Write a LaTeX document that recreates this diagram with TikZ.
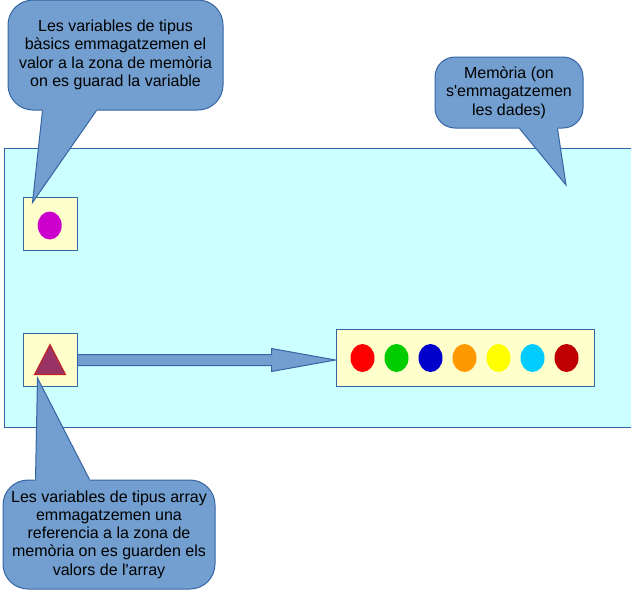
\documentclass[tikz,border=0pt]{standalone}
\usepackage{fontspec}
\setmainfont{Liberation Sans}
\usetikzlibrary{positioning,calc,shapes.geometric}
\definecolor{noteblue}{HTML}{729FCF}
\definecolor{edgeblue}{HTML}{3465A4}
\definecolor{memcyan}{HTML}{CCFFFF}
\definecolor{boxyellow}{HTML}{FFFFCC}
\tikzset{note/.style={fill=noteblue,draw=edgeblue,line width=1pt,rounded corners=25pt,align=center,inner sep=0pt,font=\fontsize{16}{18.3}\selectfont},
         varbox/.style={draw=edgeblue,fill=boxyellow,line width=1pt,minimum width=54pt,minimum height=53pt,inner sep=0pt},
         ball/.style={ellipse,minimum width=24pt,minimum height=28pt,inner sep=0pt},
         tailfill/.style={fill=noteblue},
         tailedge/.style={draw=edgeblue,line width=1pt,line join=miter},
         fatarrow/.style={fill=noteblue,draw=edgeblue,line width=1pt}
}

\begin{document}
\begin{tikzpicture}[x=1pt,y=-1pt]
\useasboundingbox (0,0) rectangle (631,590);

% memory zone
\node[draw=edgeblue,fill=memcyan,line width=1pt,minimum width=632pt,minimum height=279pt,anchor=north west,inner sep=0pt] (mem) at (4,148) {};

% variables
\node[varbox] (basicvar) at (50,223.5) {};
\node[ball,fill={rgb,255:red,204;green,0;blue,204}] (value) at (49.7,225.5) {};
\node[varbox] (arrayvar) at (50,360) {};
\filldraw[fill={rgb,255:red,153;green,51;blue,102},draw={rgb,255:red,201;green,33;blue,30},line width=1pt] ($(arrayvar)+(-15.5,14.5)$) -- ($(arrayvar)+(15.5,14.5)$) -- ($(arrayvar)+(0,-15.5)$) -- cycle;

% array in memory
\node[draw=edgeblue,fill=boxyellow,line width=1pt,minimum width=258pt,minimum height=57pt,inner sep=0pt] (arraymem) at (465,357.5) {};
\foreach \c [count=\i] in {FF0000,00CC00,0000CC,FF9900,FFFF00,00CCFF,C00000}{
  \definecolor{ballcol}{HTML}{\c}
  \node[ball,fill=ballcol] (elem\i) at ($(arraymem.west)+(-7+34*\i,0.5)$) {};
}

% reference arrow
\coordinate (tip) at (arraymem.west |- arrayvar.east);
\filldraw[fatarrow] ($(arrayvar.east)+(0,-5.5)$) -- ($(tip)+(-64,-5.5)$) -- ($(tip)+(-64,-11.5)$) -- (tip) -- ($(tip)+(-64,11.5)$) -- ($(tip)+(-64,5.5)$) -- ($(arrayvar.east)+(0,5.5)$) -- cycle;

% callouts
\node[note,minimum width=215pt,minimum height=110pt] (basicnote) at (115.5,55) {Les variables de tipus\\bàsics emmagatzemen el\\valor a la zona de memòria\\on es guarad la variable};
\coordinate (basictip) at ($(basicvar.north west)+(10,6)$);
\fill[tailfill] ($(basicnote.south west)+(35,-6)$) -- ($(basicnote.south west)+(35,0)$) -- (basictip) -- ($(basicnote.south west)+(89,0)$) -- ($(basicnote.south west)+(89,-6)$) -- cycle;
\draw[tailedge] ($(basicnote.south west)+(35,0)$) -- (basictip) -- ($(basicnote.south west)+(89,0)$);

\node[note,rounded corners=20pt,minimum width=148pt,minimum height=71pt] (memnote) at (509,92.5) {Memòria (on\\s\textquotesingle emmagatzemen\\les dades)};
\coordinate (memtip) at (566,185);
\fill[tailfill] ($(memnote.south west)+(85,-6)$) -- ($(memnote.south west)+(85,0)$) -- (memtip) -- ($(memnote.south west)+(123,0)$) -- ($(memnote.south west)+(123,-6)$) -- cycle;
\draw[tailedge] ($(memnote.south west)+(85,0)$) -- (memtip) -- ($(memnote.south west)+(123,0)$);

\node[note,minimum width=212pt,minimum height=109pt] (arraynote) at (109,534.5) {Les variables de tipus array\\emmagatzemen una\\referencia a la zona de\\memòria on es guarden els\\valors de l\textquotesingle array};
\coordinate (arraytip) at ($(arrayvar.south west)+(15,-9)$);
\fill[tailfill] ($(arraynote.north west)+(33,6)$) -- ($(arraynote.north west)+(33,0)$) -- (arraytip) -- ($(arraynote.north west)+(87,0)$) -- ($(arraynote.north west)+(87,6)$) -- cycle;
\draw[tailedge] ($(arraynote.north west)+(33,0)$) -- (arraytip) -- ($(arraynote.north west)+(87,0)$);

\end{tikzpicture}
\end{document}
